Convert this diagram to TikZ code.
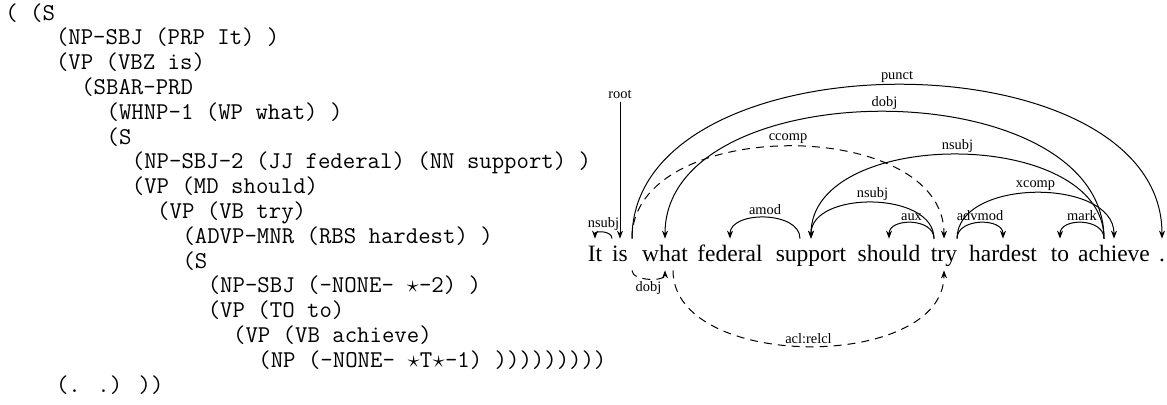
\documentclass[tikz,border=0pt]{standalone}
\usepackage{fontspec}
\setmainfont{Liberation Serif}
\usetikzlibrary{arrows.meta,calc}

\newcommand{\tstar}{\makebox[0.525em]{$\star$}}

\tikzset{
    tree/.style={anchor=base west, inner sep=0pt, font=\ttfamily\fontsize{12.05}{13}\selectfont},
    word/.style={anchor=base, inner xsep=0pt, inner ysep=2pt, text height=9pt, text depth=2.5pt,
        font=\fontsize{11.75}{14}\selectfont},
    dep/.style={-{Stealth[length=4pt,width=3pt]}, line width=0.5pt},
    deplbl/.style={font=\fontsize{7.2}{8}\selectfont, inner sep=1pt},
    dashdep/.style={dep, dash pattern=on 4pt off 3pt},
}

\begin{document}
\begin{tikzpicture}[x=0.5pt, y=0.5pt]
    \useasboundingbox (0,0) rectangle (1167,404);
    % bracketed tree
    \node[tree] (t1)  at (5,384)       {( (S};
    \node[tree] (t2)  at (55.6,359.2)  {(NP-SBJ (PRP It) )};
    \node[tree] (t3)  at (55.6,334.4)  {(VP (VBZ is)};
    \node[tree] (t4)  at (80.9,309.6)  {(SBAR-PRD};
    \node[tree] (t5)  at (106.2,284.8) {(WHNP-1 (WP what) )};
    \node[tree] (t6)  at (106.2,260)   {(S};
    \node[tree] (t7)  at (131.5,235.2) {(NP-SBJ-2 (JJ federal) (NN support) )};
    \node[tree] (t8)  at (131.5,210.4) {(VP (MD should)};
    \node[tree] (t9)  at (156.8,185.6) {(VP (VB try)};
    \node[tree] (t10) at (182.1,160.8) {(ADVP-MNR (RBS hardest) )};
    \node[tree] (t11) at (182.1,136)   {(S};
    \node[tree] (t12) at (207.4,111.2) {(NP-SBJ (-NONE- \tstar-2) )};
    \node[tree] (t13) at (207.4,86.4)  {(VP (TO to)};
    \node[tree] (t14) at (232.7,61.6)  {(VP (VB achieve)};
    \node[tree] (t15) at (258,36.8)    {(NP (-NONE- \tstar T\tstar-1) )))))))))};
    \node[tree] (t16) at (55.6,12)     {(. .) ))};

    % sentence
    \node[word] (it)      at (595,143)  {It};
    \node[word] (is)      at (620,143)  {is};
    \node[word] (what)    at (665,143)  {what};
    \node[word] (federal) at (730,143)  {federal};
    \node[word] (support) at (811,143)  {support};
    \node[word] (should)  at (889,143)  {should};
    \node[word] (try)     at (944,143)  {try};
    \node[word] (hardest) at (1003,143) {hardest};
    \node[word] (wto)     at (1060,143) {to};
    \node[word] (achieve) at (1114,143) {achieve};
    \node[word] (period)  at (1162,143) {.};

    % arcs above
    \node[deplbl] (root) at (620,309) {root};
    \draw[dep] (root) -- (is.north);
    \draw[dep] ($(is.north)+(-4pt,0)$) .. controls +(0,8) and +(0,8) .. (it.north)
        node[deplbl, midway, above] {nsubj};
    \draw[dep] ($(is.north)+(6pt,0)$) .. controls +(0,205) and +(0,205) .. (period.north)
        node[deplbl, midway, above] {punct};
    \draw[dashdep] ($(is.north)+(6pt,0)$) .. controls +(0,123) and +(0,123) .. (try.north)
        node[deplbl, midway, above] {ccomp};
    \draw[dep] ($(achieve.north)+(-5pt,0)$) .. controls +(0,169) and +(0,169) .. (what.north)
        node[deplbl, midway, above] {dobj};
    \draw[dep] ($(achieve.north)+(-5pt,0)$) .. controls +(0,112) and +(0,112) .. (support.north)
        node[deplbl, midway, above] {nsubj};
    \draw[dep] ($(support.north)+(-5.5pt,0)$) .. controls +(0,28) and +(0,28) .. (federal.north)
        node[deplbl, midway, above] {amod};
    \draw[dep] ($(try.north)+(-5pt,0)$) .. controls +(0,48) and +(0,48) .. (support.north)
        node[deplbl, midway, above] {nsubj};
    \draw[dep] ($(try.north)+(-5pt,0)$) .. controls +(0,21) and +(0,21) .. (should.north)
        node[deplbl, midway, above] {aux};
    \draw[dep] ($(try.north)+(6.5pt,0)$) .. controls +(0,21) and +(0,21) .. (hardest.north)
        node[deplbl, midway, above] {advmod};
    \draw[dep] ($(try.north)+(6.5pt,0)$) .. controls +(0,61) and +(0,61) .. (achieve.north)
        node[deplbl, midway, above] {xcomp};
    \draw[dep] ($(achieve.north)+(-5pt,0)$) .. controls +(0,21) and +(0,21) .. (wto.north)
        node[deplbl, midway, above] {mark};

    % arcs below
    \draw[dashdep] ($(is.south)+(6pt,0)$) .. controls +(0,-11) and +(0,-11) .. (what.south)
        node[deplbl, midway, below] {dobj};
    \draw[dashdep] ($(what.south)+(4pt,0)$) .. controls +(0,-101) and +(0,-101) .. (try.south)
        node[deplbl, midway, above] {acl:relcl};
\end{tikzpicture}
\end{document}
